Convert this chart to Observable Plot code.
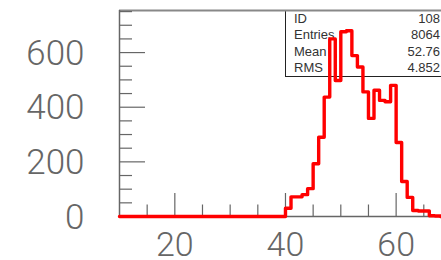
<!DOCTYPE html>
<html>
<head>
<meta charset="utf-8">
<script src="https://cdn.jsdelivr.net/npm/d3@7"></script>
<script src="https://cdn.jsdelivr.net/npm/@observablehq/plot@0.6"></script>
<style>
  html, body { margin: 0; padding: 0; background: #fff; }
  #wrap { position: relative; width: 441px; height: 260px; overflow: hidden; }
  #stats { position: absolute; z-index: 0; box-sizing: border-box;
    border-left: 1px solid #222; border-bottom: 1px solid #222;
    font-family: "Liberation Sans", Arial, sans-serif; font-size: 13px; color: #333; }
  #stats .row { position: absolute; left: 8px; right: 0; height: 16px; line-height: 16px; }
  #stats .k { position: absolute; left: 0; }
  #stats .v { position: absolute; right: 0; }
  #plot { position: absolute; left: 0; top: 0; z-index: 1; }
</style>
</head>
<body>
<div id="wrap"><div id="stats"></div><div id="plot"></div></div>
<script>
// Histogram: bin lower edges (width 1) and counts
const binStart = [10, 39, 40, 41, 42, 43, 44, 45, 46, 47, 48, 49, 50, 51, 52, 53, 54, 55, 56, 57, 58, 59, 60, 61, 62, 63, 64, 65, 66, 67, 68];
const counts   = [ 0,  0, 30, 72, 72, 80,102,193,290,437,650,498,676,680,589,547,456,359,462,425,420,480,271,128, 70, 22, 20, 20,  3,  2,  0];
const xEnd = 68.2;

// Axes
const xDomain = [10, 68.2];
const yDomain = [0, 754];
const xMajor = [20, 40, 60];
const xMinor = [15, 25, 30, 35, 45, 50, 55, 65];
const yMajor = [0, 200, 400, 600];
const yMinor = [50, 100, 150, 250, 300, 350, 450, 500, 550, 650, 700, 750];

// Stats box
const statKeys = ["ID", "Entries", "Mean", "RMS"];
const statVals = ["108", "8064", "52.76", "4.852"];

const pts = binStart.map((x, i) => ({x, y: counts[i]}));
pts.push({x: xEnd, y: counts[counts.length - 1]});

const axisColor = "#666";
const textColor = "#666";
const font = "Roboto, 'Liberation Sans', Arial, sans-serif";

const chart = Plot.plot({
  width: 441,
  height: 260,
  marginLeft: 119,
  marginRight: 0,
  marginTop: 10,
  marginBottom: 44,
  style: {background: "transparent", fontFamily: font, overflow: "visible"},
  x: {domain: xDomain},
  y: {domain: yDomain},
  marks: [
    Plot.ruleY([yDomain[1]], {stroke: "#888", strokeWidth: 2}),
    Plot.ruleX([xDomain[0]], {stroke: axisColor, strokeWidth: 1.5}),
    Plot.axisX({ticks: xMajor, tickSize: -23, text: null, label: null, stroke: axisColor, strokeWidth: 1.2}),
    Plot.axisX({ticks: xMinor, tickSize: -11.5, text: null, label: null, stroke: axisColor, strokeWidth: 1.2}),
    Plot.axisY({ticks: yMajor, tickSize: -26, text: null, label: null, stroke: axisColor, strokeWidth: 1.2}),
    Plot.axisY({ticks: yMinor, tickSize: -13, text: null, label: null, stroke: axisColor, strokeWidth: 1.2}),
    Plot.axisX({ticks: xMajor, tickSize: 0, tickPadding: 15, fontSize: 34, fontWeight: 300, fill: textColor, label: null}),
    Plot.axisY({ticks: yMajor, tickSize: 0, tickPadding: 35, fontSize: 35, fontWeight: 300, fill: textColor, label: null, dy: 1}),
    Plot.ruleY([0], {stroke: axisColor, strokeWidth: 1.5}),
    Plot.line(pts, {x: "x", y: "y", curve: "step-after", stroke: "#ff0000", strokeWidth: 3.4})
  ]
});
document.getElementById("plot").appendChild(chart);

// Stats box placed over the plot area (behind the histogram line)
const xs = chart.scale("x");
const box = document.getElementById("stats");
const left = Math.round(xs.apply(40));
box.style.left = left + "px";
box.style.top = "10px";
box.style.width = (441 - left + 10) + "px";
box.style.height = "67px";
const boxInner = d3.select(box);
statKeys.forEach((k, i) => {
  const r = boxInner.append("div").attr("class", "row").style("top", (i * 16.6 + 0.5) + "px");
  r.append("span").attr("class", "k").text(k);
  r.append("span").attr("class", "v").style("right", "11px").text(statVals[i]);
});
</script>
</body>
</html>
